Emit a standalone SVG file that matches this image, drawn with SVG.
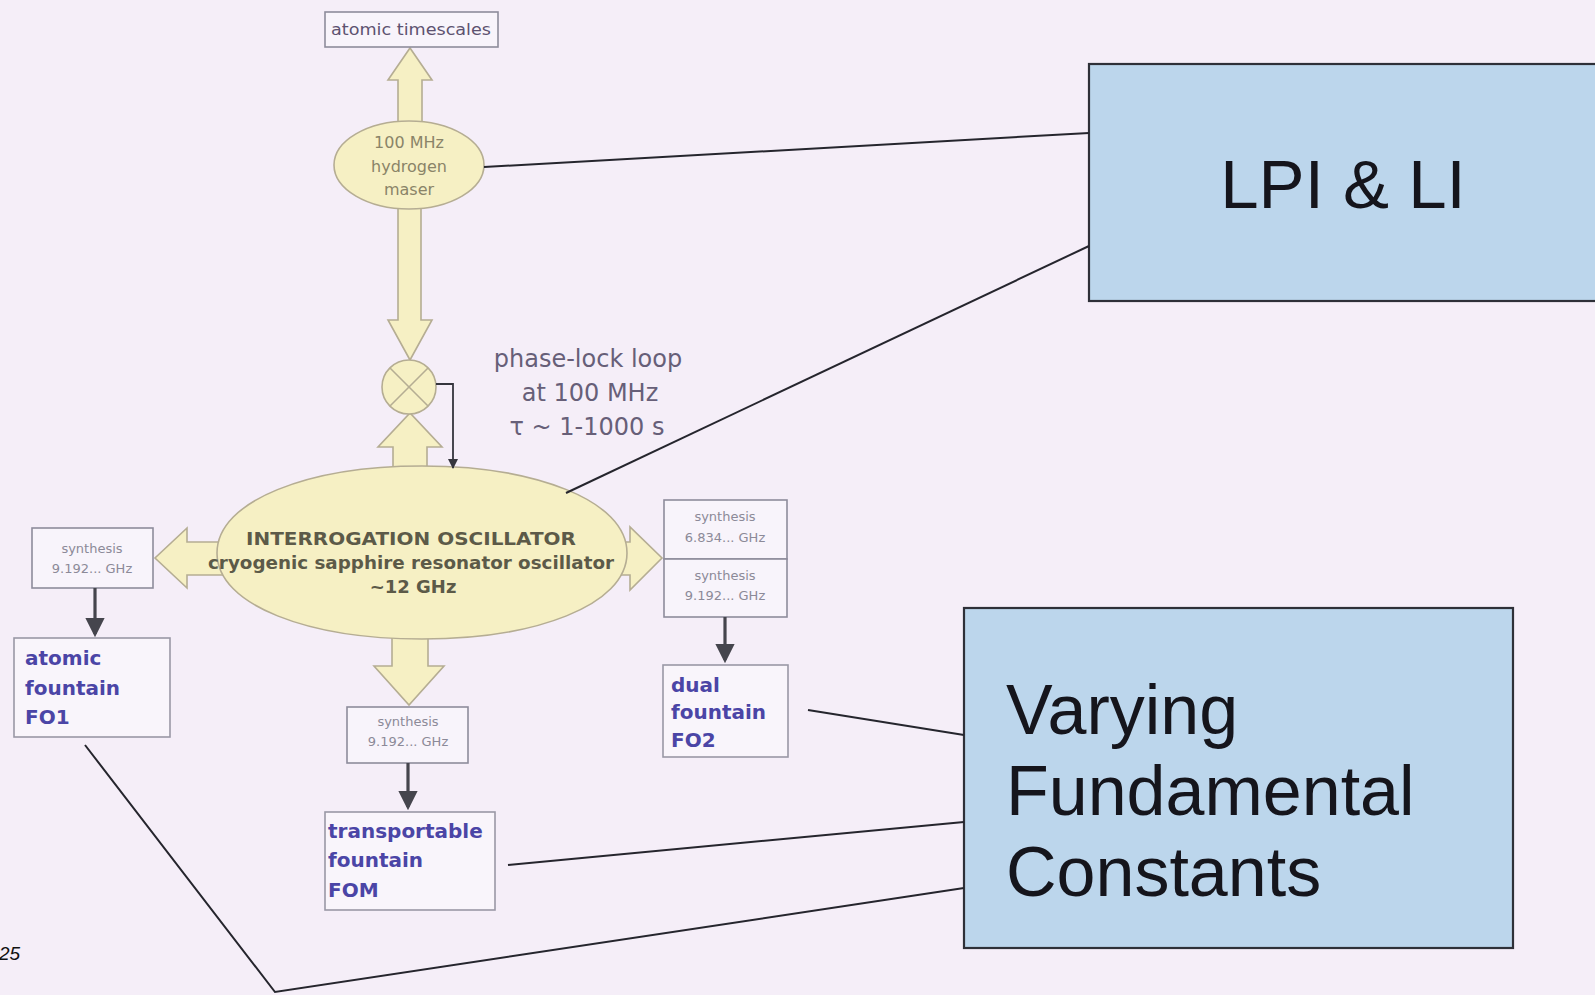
<svg xmlns="http://www.w3.org/2000/svg" width="1595" height="995" viewBox="0 0 1595 995">
<defs>
<style>
.yel{fill:#f6f0c4;stroke:#b5ad93;stroke-width:1.6}
.sbox{fill:#f8f4fb;stroke:#8e8c9c;stroke-width:1.6}
.fbox{fill:#f9f5fb;stroke:#9a98a6;stroke-width:1.6}
.blue{fill:#bcd6ec;stroke:#2e3038;stroke-width:2.2}
.conn{stroke:#25252d;stroke-width:2;fill:none}
.darr{stroke:#45454d;stroke-width:3.2;fill:none}
.small{font-family:"DejaVu Sans",sans-serif;font-size:13px;fill:#8c8a98;text-anchor:middle}
.maser{font-family:"DejaVu Sans",sans-serif;font-size:16px;fill:#8a8468;text-anchor:middle}
.osc{font-family:"DejaVu Sans",sans-serif;font-weight:bold;font-size:18px;fill:#5c5a48;text-anchor:middle}
.fount{font-family:"DejaVu Sans",sans-serif;font-weight:bold;font-size:20px;fill:#4b45a6}
.pll{font-family:"DejaVu Sans",sans-serif;font-size:24px;fill:#675f78;text-anchor:middle}
.big{font-family:"Liberation Sans",Arial,sans-serif;fill:#15151c}
</style>
<marker id="ah" markerWidth="6" markerHeight="6" refX="5" refY="3" orient="auto" markerUnits="strokeWidth">
<path d="M0,0 L6,3 L0,6 Z" fill="#45454d"/>
</marker>
<marker id="ahs" markerWidth="10" markerHeight="10" refX="9" refY="5" orient="auto" markerUnits="userSpaceOnUse">
<path d="M0,0 L10,5 L0,10 Z" fill="#35353d"/>
</marker>
</defs>
<rect width="1595" height="995" fill="#f5eef8"/>

<g id="arrows-yellow">
<path class="yel" d="M398,135 L398,80 L388,80 L410,48 L432,80 L422,80 L422,135 Z"/>
<path class="yel" d="M398,200 L398,320 L388,320 L410,360 L432,320 L421,320 L421,200 Z"/>
<path class="yel" d="M393,490 L393,447 L378,447 L410,413 L442,447 L427,447 L427,490 Z"/>
<path class="yel" d="M392,620 L392,666 L374,666 L409,705 L444,666 L428,666 L428,620 Z"/>
<path class="yel" d="M240,542 L187,542 L187,528 L155,558 L187,588 L187,575 L240,575 Z M600,542 L630,542 L630,527 L662,558 L630,590 L630,575 L600,575 Z"/>
</g>

<g id="atomic-timescales">
<rect class="sbox" x="325" y="12" width="173" height="35"/>
<text x="411" y="35" font-family="DejaVu Sans, sans-serif" font-size="16" fill="#5d5270" text-anchor="middle" textLength="160" lengthAdjust="spacingAndGlyphs">atomic timescales</text>
</g>

<g id="maser">
<ellipse class="yel" cx="409" cy="165" rx="75" ry="44"/>
<text class="maser" x="409" y="148">100 MHz</text>
<text class="maser" x="409" y="172">hydrogen</text>
<text class="maser" x="409" y="195">maser</text>
</g>

<g id="mixer">
<circle class="yel" cx="409" cy="387" r="27"/>
<line x1="390" y1="368" x2="428" y2="406" stroke="#b5ad93" stroke-width="1.6"/>
<line x1="428" y1="368" x2="390" y2="406" stroke="#b5ad93" stroke-width="1.6"/>
</g>

<g id="pll-label">
<text class="pll" x="588" y="367">phase-lock loop</text>
<text class="pll" x="590" y="401">at 100 MHz</text>
<text class="pll" x="587" y="435">τ ~ 1-1000 s</text>
</g>

<g id="oscillator">
<path class="yel" d="M217,553 C217,500 310,466 422,466 C534,466 627,500 627,553 C627,606 534,639 422,639 C310,639 217,606 217,553 Z"/>
<text class="osc" x="411" y="545" textLength="330" lengthAdjust="spacingAndGlyphs">INTERROGATION OSCILLATOR</text>
<text class="osc" x="411" y="569" textLength="406" lengthAdjust="spacingAndGlyphs">cryogenic sapphire resonator oscillator</text>
<text class="osc" x="413" y="593">~12 GHz</text>
</g>

<g id="synth-left">
<rect class="sbox" x="32" y="528" width="121" height="60"/>
<text class="small" x="92" y="553">synthesis</text>
<text class="small" x="92" y="573">9.192... GHz</text>
</g>

<g id="synth-right">
<rect class="sbox" x="664" y="500" width="123" height="59"/>
<rect class="sbox" x="664" y="559" width="123" height="58"/>
<text class="small" x="725" y="521">synthesis</text>
<text class="small" x="725" y="542">6.834... GHz</text>
<text class="small" x="725" y="580">synthesis</text>
<text class="small" x="725" y="600">9.192... GHz</text>
</g>

<g id="synth-bottom">
<rect class="sbox" x="347" y="707" width="121" height="56"/>
<text class="small" x="408" y="726">synthesis</text>
<text class="small" x="408" y="746">9.192... GHz</text>
</g>

<g id="fo1">
<rect class="fbox" x="14" y="638" width="156" height="99"/>
<text class="fount" x="25" y="665">atomic</text>
<text class="fount" x="25" y="695">fountain</text>
<text class="fount" x="25" y="724">FO1</text>
</g>

<g id="fo2">
<rect class="fbox" x="663" y="665" width="125" height="92"/>
<text class="fount" x="671" y="692">dual</text>
<text class="fount" x="671" y="719">fountain</text>
<text class="fount" x="671" y="747">FO2</text>
</g>

<g id="fom">
<rect class="fbox" x="325" y="812" width="170" height="98"/>
<text class="fount" x="328" y="838">transportable</text>
<text class="fount" x="328" y="867">fountain</text>
<text class="fount" x="328" y="897">FOM</text>
</g>

<g id="lpi">
<rect class="blue" x="1089" y="64" width="520" height="237"/>
<text class="big" x="1343" y="208" font-size="69" text-anchor="middle">LPI &amp; LI</text>
</g>

<g id="vfc">
<rect class="blue" x="964" y="608" width="549" height="340"/>
<text class="big" x="1006" y="734" font-size="70">Varying</text>
<text class="big" x="1006" y="815" font-size="70">Fundamental</text>
<text class="big" x="1006" y="896" font-size="70">Constants</text>
</g>

<g id="connectors">
<line class="conn" x1="484" y1="167" x2="1089" y2="133"/>
<line class="conn" x1="566" y1="493" x2="1089" y2="246"/>
<line class="conn" x1="808" y1="710" x2="964" y2="735"/>
<line class="conn" x1="508" y1="865" x2="964" y2="822"/>
<polyline class="conn" points="85,745 275,992 964,888"/>
<line class="darr" x1="95" y1="588" x2="95" y2="634" marker-end="url(#ah)"/>
<line class="darr" x1="725" y1="617" x2="725" y2="660" marker-end="url(#ah)"/>
<line class="darr" x1="408" y1="763" x2="408" y2="807" marker-end="url(#ah)"/>
<polyline points="436,384 453,384 453,468" fill="none" stroke="#35353d" stroke-width="1.8" marker-end="url(#ahs)"/>
</g>

<text x="-1" y="960" font-family="Liberation Sans, Arial, sans-serif" font-style="italic" font-size="19" fill="#111">25</text>
</svg>
